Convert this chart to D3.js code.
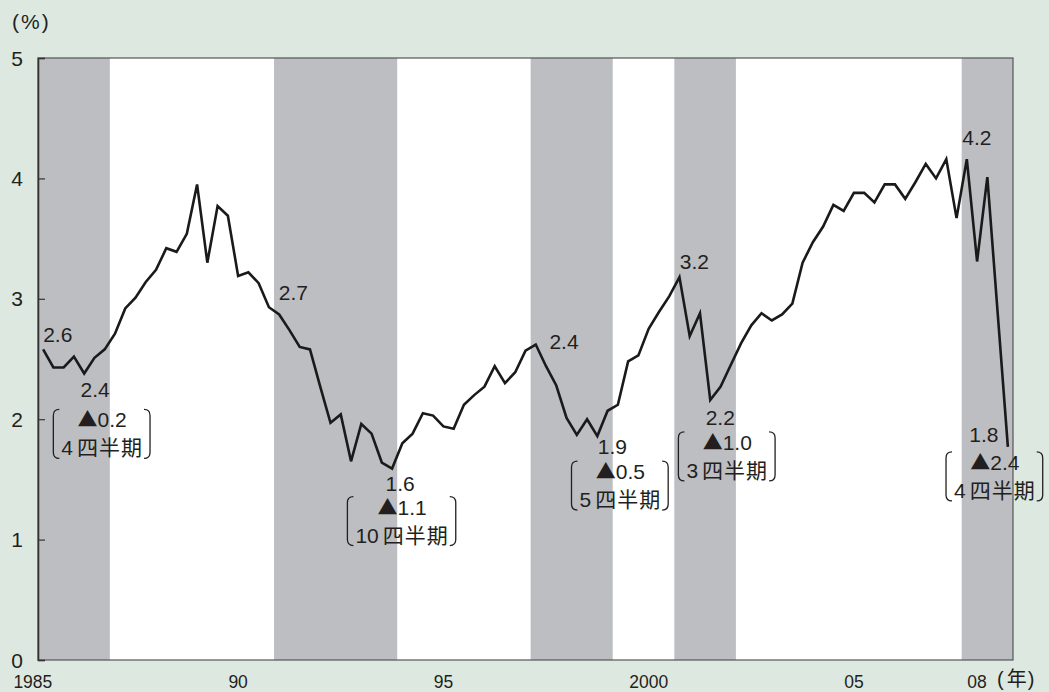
<!DOCTYPE html>
<html lang="ja">
<head>
<meta charset="utf-8">
<script src="https://cdn.jsdelivr.net/npm/d3@7"></script>
<style>
  html, body { margin: 0; padding: 0; background: #dde9e0; }
  svg { display: block; }
  text { fill: #231f20; font-family: "Liberation Sans", Arial, "Noto Sans CJK JP", sans-serif; }
  .cjk { font-family: "Noto Sans CJK JP", sans-serif; }
</style>
</head>
<body>
<svg id="chart" width="1049" height="692"></svg>
<script>
// Quarterly series, first point 1985 Q2 (one value per quarter)
const firstYear = 1985;
const firstQuarter = 2;
const values = [
  2.58, 2.43, 2.43, 2.52, 2.38, 2.51, 2.58, 2.71, 2.92, 3.01,
  3.14, 3.24, 3.42, 3.39, 3.54, 3.95, 3.30, 3.77, 3.69, 3.19,
  3.22, 3.13, 2.93, 2.87, 2.74, 2.60, 2.58, 2.27, 1.97, 2.04,
  1.65, 1.96, 1.88, 1.64, 1.59, 1.80, 1.88, 2.05, 2.03, 1.94,
  1.92, 2.12, 2.20, 2.27, 2.44, 2.30, 2.39, 2.57, 2.62, 2.44,
  2.28, 2.01, 1.87, 2.00, 1.86, 2.07, 2.12, 2.48, 2.53, 2.75,
  2.89, 3.02, 3.18, 2.69, 2.88, 2.16, 2.27, 2.45, 2.63, 2.78,
  2.88, 2.82, 2.87, 2.96, 3.30, 3.47, 3.60, 3.78, 3.73, 3.88,
  3.88, 3.80, 3.95, 3.95, 3.83, 3.97, 4.12, 4.00, 4.16, 3.67,
  4.16, 3.31, 4.01, 2.89, 1.77
];

// Recession periods: [first quarter, last quarter] as [year, quarter]
const recessions = [
  [[1985, 2], [1986, 4]],
  [[1991, 1], [1993, 4]],
  [[1997, 2], [1999, 1]],
  [[2000, 4], [2002, 1]],
  [[2007, 4], [2008, 4]]
];

// Peak / trough index pairs annotated on the line
const peakIndex   = [0, 24, 49, 62, 90];
const troughIndex = [4, 34, 54, 65, 94];

// Axis ticks
const yTicks = [0, 1, 2, 3, 4, 5];
const xTickYears  = [1985, 1990, 1995, 2000, 2005, 2008];
const xTickLabels = ["1985", "90", "95", "2000", "05", "08"];

// Label placement (pixel offsets from the marked point)
const calloutLayout = [
  { pdx: 0,   pdy: -7,  panchor: "start",  tdx: 11,  tdy: 24, bdx: 18, bdy: 54 },
  { pdx: 4,   pdy: -30, panchor: "middle", tdx: 8,   tdy: 22, bdx: 10, bdy: 46 },
  { pdx: 18,  pdy: -17, panchor: "middle", tdx: 15,  tdy: 18, bdx: 23, bdy: 43 },
  { pdx: 15,  pdy: -8,  panchor: "middle", tdx: 10,  tdy: 25, bdx: 17, bdy: 50 },
  { pdx: 10,  pdy: -14, panchor: "middle", tdx: -24, tdy: -5, bdx: -13, bdy: 23 }
];

const svg = d3.select("#chart");
const plot = { left: 38, right: 1013, top: 58, bottom: 660 };

const qTime = (y, q) => y + (q - 1) / 4;           // start of quarter, in years
const tOf = i => qTime(firstYear, firstQuarter) + i / 4;
const t0 = tOf(0) - 0.125;
const t1 = tOf(values.length - 1) + 0.125;

const x = d3.scaleLinear().domain([t0, t1]).range([plot.left, plot.right]);
const y = d3.scaleLinear().domain([0, 5]).range([plot.bottom, plot.top]);

// plot background
svg.append("rect")
  .attr("x", plot.left).attr("y", plot.top)
  .attr("width", plot.right - plot.left).attr("height", plot.bottom - plot.top)
  .attr("fill", "#ffffff");

// shaded recession bands
svg.append("g").selectAll("rect").data(recessions).join("rect")
  .attr("x", d => x(qTime(...d[0]) - 0.125))
  .attr("width", d => Math.min(x(qTime(...d[1]) + 0.125), plot.right) - x(qTime(...d[0]) - 0.125))
  .attr("y", plot.top)
  .attr("height", plot.bottom - plot.top)
  .attr("fill", "#bdbec2");

// frame
svg.append("rect")
  .attr("x", plot.left).attr("y", plot.top)
  .attr("width", plot.right - plot.left).attr("height", plot.bottom - plot.top)
  .attr("fill", "none").attr("stroke", "#555").attr("stroke-width", 1.2);

// y axis: inward ticks, labels on the left
const yAxis = svg.append("g").attr("transform", `translate(${plot.left},0)`)
  .call(d3.axisRight(y).tickValues(yTicks).tickSize(7).tickFormat(""));
yAxis.select(".domain").attr("stroke", "#333").attr("stroke-width", 1.6);
yAxis.selectAll(".tick line").attr("stroke", "#333").attr("stroke-width", 1.2);

svg.append("g").selectAll("text").data(yTicks).join("text")
  .attr("x", 23).attr("y", d => y(d))
  .attr("dy", "0.36em")
  .attr("text-anchor", "end")
  .attr("font-size", 21)
  .text(d => d);

svg.append("text")
  .attr("x", 12).attr("y", 29).attr("font-size", 21)
  .attr("letter-spacing", 2)
  .text("(%)");

// x axis labels
svg.append("g").selectAll("text").data(xTickYears).join("text")
  .attr("x", d => x(d)).attr("y", 688)
  .attr("text-anchor", "middle")
  .attr("font-size", 17.5)
  .text((d, i) => xTickLabels[i]);

const unit = svg.append("text").attr("x", 997).attr("y", 686).attr("font-size", 20);
unit.append("tspan").text("(");
unit.append("tspan").attr("class", "cjk").attr("dx", 3).text("年");
unit.append("tspan").attr("dx", 1).text(")");

// series line
const line = d3.line()
  .x((d, i) => x(tOf(i)))
  .y(d => y(d));

svg.append("path")
  .datum(values)
  .attr("d", line)
  .attr("fill", "none")
  .attr("stroke", "#1a1a1a")
  .attr("stroke-width", 2.6)
  .attr("stroke-linejoin", "miter");

// peak / trough labels with change and duration in brackets
const fmt = d3.format(".1f");
const callouts = svg.append("g");
peakIndex.forEach((p, k) => {
  const tr = troughIndex[k];
  const L = calloutLayout[k];
  const pv = +fmt(values[p]), tv = +fmt(values[tr]);
  const px = x(tOf(p)), py = y(values[p]);
  const tx = x(tOf(tr)), ty = y(values[tr]);

  callouts.append("text")
    .attr("x", px + L.pdx).attr("y", py + L.pdy)
    .attr("text-anchor", L.panchor).attr("font-size", 21)
    .text(fmt(pv));

  callouts.append("text")
    .attr("x", tx + L.tdx).attr("y", ty + L.tdy)
    .attr("text-anchor", "middle").attr("font-size", 21)
    .text(fmt(tv));

  const cx = tx + L.bdx, b1 = ty + L.bdy, b2 = b1 + 28;
  const first = callouts.append("text")
    .attr("x", cx).attr("y", b1)
    .attr("text-anchor", "middle").attr("font-size", 21);
  first.append("tspan").attr("class", "cjk").attr("font-size", 20).text("▲");
  first.append("tspan").text(fmt(pv - tv));

  const second = callouts.append("text")
    .attr("x", cx).attr("y", b2)
    .attr("text-anchor", "middle").attr("font-size", 21);
  second.append("tspan").text(tr - p);
  second.append("tspan").attr("class", "cjk").attr("dx", 4)
    .attr("letter-spacing", 1).text("四半期");

  const bb = second.node().getBBox();
  const xl = bb.x - 8, xr = bb.x + bb.width + 7;
  const top = b1 - 18, bot = b2 + 3, r = 6;
  callouts.append("path")
    .attr("d", `M${xl + r},${top} Q${xl},${top} ${xl},${top + r} L${xl},${bot - r} Q${xl},${bot} ${xl + r},${bot}`)
    .attr("fill", "none").attr("stroke", "#231f20").attr("stroke-width", 1.3);
  callouts.append("path")
    .attr("d", `M${xr - r},${top} Q${xr},${top} ${xr},${top + r} L${xr},${bot - r} Q${xr},${bot} ${xr - r},${bot}`)
    .attr("fill", "none").attr("stroke", "#231f20").attr("stroke-width", 1.3);
});
</script>
</body>
</html>
